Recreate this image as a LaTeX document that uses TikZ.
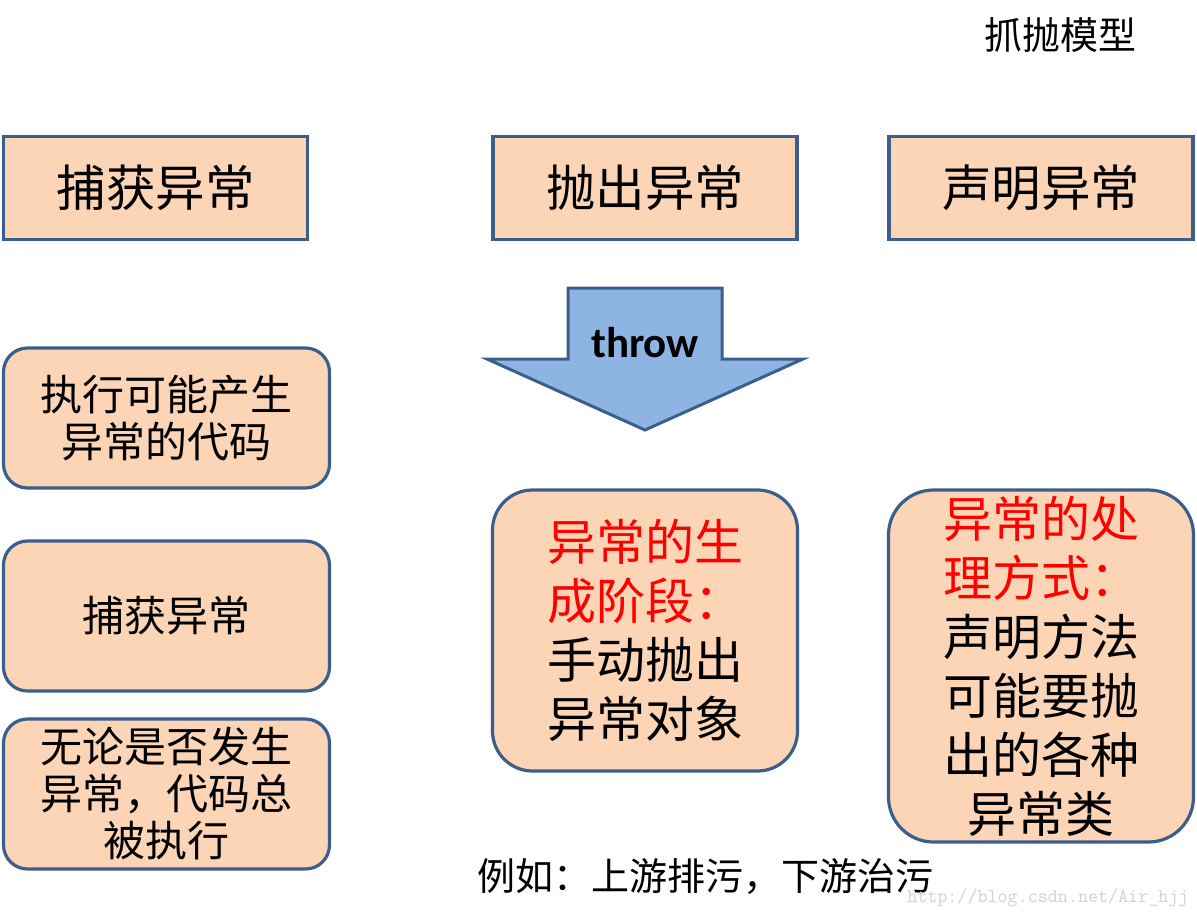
\documentclass[tikz,border=0pt]{standalone}
\usepackage{fontspec}
\newfontfamily\cjk{Noto Sans CJK SC}
\newfontfamily\calibri{Carlito}
\usetikzlibrary{positioning}
\definecolor{bdr}{HTML}{3C5E8C}
\definecolor{peach}{HTML}{FBD5B5}
\definecolor{arrowblue}{HTML}{8EB4E3}
\definecolor{redtxt}{HTML}{FF0000}
\begin{document}
\begin{tikzpicture}[x=1pt,y=-1pt,
  headbox/.style={draw=bdr,fill=peach,line width=3.2pt,minimum width=304pt,minimum height=103pt,inner sep=0pt,
    font={\cjk\fontsize{49.5}{56}\selectfont}},
  leftbox/.style={draw=bdr,fill=peach,line width=3.2pt,rounded corners=24pt,minimum width=326pt,inner sep=0pt,align=center,
    font={\cjk\fontsize{42}{47}\selectfont}},
  bigbox/.style={draw=bdr,fill=peach,line width=3.2pt,minimum width=305pt,inner sep=0pt,align=center,
    font={\cjk\fontsize{49}{59}\selectfont}},
]
\useasboundingbox (0,0) rectangle (1197,919);
\fill[white] (0,0) rectangle (1197,919);

\node[font={\cjk\fontsize{38}{44}\selectfont}] (title) at (1060,35) {抓抛模型};

\node[headbox] (catch) at (155.5,188) {捕获异常};
\node[headbox] (throwh) at (645,188) {抛出异常};
\node[headbox] (decl) at (1041,188) {声明异常};

% throw arrow
\coordinate (a1) at (568,288);
\coordinate (a2) at (722,288);
\coordinate (a3) at (722,359);
\coordinate (a4) at (803,359);
\coordinate (a5) at (645,430);
\coordinate (a6) at (487,359);
\coordinate (a7) at (568,359);
\draw[draw=bdr,fill=arrowblue,line width=3pt,line join=miter] (a1) -- (a2) -- (a3) -- (a4) -- (a5) -- (a6) -- (a7) -- cycle;
\node[font={\calibri\bfseries\fontsize{43}{48}\selectfont}] (throwtxt) at (645,343) {throw};

\node[leftbox,minimum height=140pt] (l1) at (166.5,418) {执行可能产生\\异常的代码};
\node[leftbox,minimum height=150pt] (l2) at (166.5,616) {捕获异常};
\node[leftbox,minimum height=150pt] (l3) at (166.5,794) {无论是否发生\\异常，代码总\\被执行};

\node[bigbox,rounded corners=40pt,minimum height=281pt] (mid) at (645,630.5)
  {\textcolor{redtxt}{异常的生}\\\textcolor{redtxt}{成阶段：}\\手动抛出\\异常对象};
\node[bigbox,rounded corners=45pt,minimum height=352pt] (right) at (1041,666)
  {\textcolor{redtxt}{异常的处}\\\textcolor{redtxt}{理方式：}\\声明方法\\可能要抛\\出的各种\\异常类};

\node[font={\cjk\fontsize{38}{42}\selectfont},anchor=west] (example) at (474,877) {例如：上游排污，下游治污};
\node[font={\ttfamily\fontsize{19.5}{21}\selectfont},text=gray!35,anchor=east] (wm) at (1192,898) {http://blog.csdn.net/Air\_hjj};
\end{tikzpicture}
\end{document}
